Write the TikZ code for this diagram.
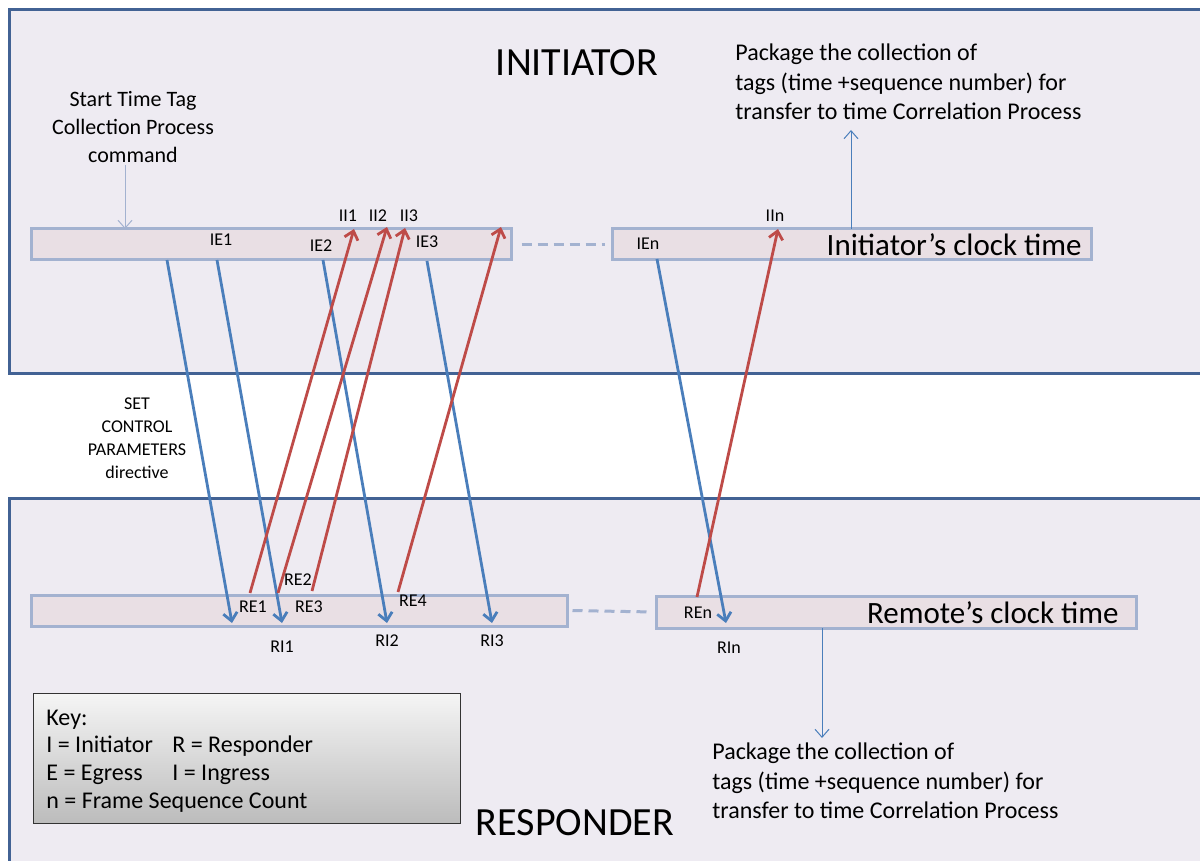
\documentclass[tikz,border=0pt]{standalone}
\usepackage{fontspec}
\setmainfont{Carlito}
\usetikzlibrary{arrows.meta, positioning, fit}

\definecolor{panelfill}{RGB}{238,235,242}
\definecolor{panelline}{RGB}{66,98,148}
\definecolor{barfill}{RGB}{233,223,228}
\definecolor{barline}{RGB}{163,178,208}
\definecolor{egressblue}{RGB}{74,126,187}
\definecolor{ingressred}{RGB}{190,75,72}
\definecolor{keytop}{RGB}{245,245,245}
\definecolor{keybottom}{RGB}{188,188,188}

\tikzset{
  panel/.style={fill=panelfill,draw=panelline,line width=1.5pt},
  clockbar/.style={fill=barfill,draw=barline,line width=1.5pt,inner sep=0pt},
  linkdash/.style={draw=barline,line width=1.5pt,dash pattern=on 5pt off 3pt},
  egressarr/.style={draw=egressblue,line width=1.4pt,-{Straight Barb[length=4pt,width=7pt]}},
  ingressarr/.style={draw=ingressred,line width=1.4pt,-{Straight Barb[length=4pt,width=7pt]}},
  thinarr/.style={line width=0.5pt,-{Straight Barb[length=4pt,width=7pt]}},
  tag/.style={font=\fontsize{9}{10}\selectfont,inner sep=1pt},
  title/.style={font=\fontsize{20}{24}\selectfont},
  clocklabel/.style={font=\fontsize{15.5}{18}\selectfont,anchor=east,inner sep=0pt},
  note/.style={font=\fontsize{12}{14.75}\selectfont,align=left,anchor=west,inner sep=0pt},
  keybox/.style={top color=keytop,bottom color=keybottom,draw=black!80,line width=0.5pt,inner sep=0pt},
  keytext/.style={font=\fontsize{12}{14}\selectfont,anchor=base west,inner sep=0pt}
}

\begin{document}
\begin{tikzpicture}[x=0.5pt,y=-0.5pt]
    \useasboundingbox (0,0) rectangle (1200,861);
    \clip (0,0) rectangle (1200,861);
    \fill[white] (0,0) rectangle (1200,861);

    % Initiator and responder areas
    \draw[panel] (9,10) rectangle (1220,374);
    \draw[panel] (9,498) rectangle (1220,880);
    \node[title] (initiator) at (577,63) {INITIATOR};
    \node[title] (responder) at (575,823) {RESPONDER};

    % Clock bars
    \node[clockbar,fit={(31,229) (511,260)}] (ibarA) {};
    \node[clockbar,fit={(612,229) (1091,260)}] (ibarB) {};
    \node[clockbar,fit={(31,595) (567,626)}] (rbarA) {};
    \node[clockbar,fit={(656,596) (1136,628)}] (rbarB) {};
    \draw[linkdash,shorten <=4.5pt,shorten >=3pt] (ibarA.east) -- (ibarB.west);
    \draw[linkdash,shorten <=2pt,shorten >=3pt] (rbarA.east) -- (rbarB.west);
    \node[clocklabel] (iclock) at (1082,245) {Initiator’s clock time};
    \node[clocklabel] (rclock) at (1119,613) {Remote’s clock time};

    % Start command
    \node[font=\fontsize{11}{14}\selectfont,align=center] (startcmd) at (133,127)
        {Start Time Tag\\Collection Process\\command};
    \coordinate (startend) at (125,229);
    \draw[thinarr,draw=barline] (125,165) -- (startend);

    % Package notes
    \node[note] (ipackage) at (735,82)
        {Package the collection of\\tags (time +sequence number) for\\transfer to time Correlation Process};
    \node[note] (rpackage) at (712,781)
        {Package the collection of\\tags (time +sequence number) for\\transfer to time Correlation Process};
    \coordinate (ipkgfoot) at (851,229);
    \coordinate (ipkghead) at (851,130);
    \coordinate (rpkgfoot) at (822,628);
    \coordinate (rpkghead) at (822,738);
    \draw[thinarr,draw=egressblue] (ipkgfoot) -- (ipkghead);
    \draw[thinarr,draw=egressblue] (rpkgfoot) -- (rpkghead);

    \node[font=\fontsize{9}{11.5}\selectfont,align=center] (setparams) at (137,438)
        {SET\\CONTROL\\PARAMETERS\\directive};

    % Egress from initiator, ingress at responder
    \coordinate (ie0) at (167,260);
    \coordinate (ie1) at (217,260);
    \coordinate (ie2) at (323,260);
    \coordinate (ie3) at (427,261);
    \coordinate (ien) at (657,259);
    \coordinate (ri0) at (232,623);
    \coordinate (ri1) at (282,623);
    \coordinate (ri2) at (387,623);
    \coordinate (ri3) at (492,623);
    \coordinate (rin) at (726,623);
    \foreach \s in {0,1,2,3,n}
        \draw[egressarr] (ie\s) -- (ri\s);

    % Egress from responder, ingress at initiator
    \coordinate (re1) at (250,593);
    \coordinate (re2) at (278,593);
    \coordinate (re3) at (312,591);
    \coordinate (re4) at (398,592);
    \coordinate (ren) at (697,597);
    \coordinate (ii1) at (354,229);
    \coordinate (ii2) at (387,227);
    \coordinate (ii3) at (405,228);
    \coordinate (ii4) at (501,227);
    \coordinate (iin) at (778,229);
    \foreach \s in {1,2,3,4,n}
        \draw[ingressarr] (re\s) -- (ii\s);

    % Tags
    \node[tag] (ie1tag) at (221,240) {IE1};
    \node[tag] (ie2tag) at (321,246) {IE2};
    \node[tag] (ie3tag) at (427,242) {IE3};
    \node[tag] (ientag) at (648,244) {IEn};
    \node[tag] (ii1tag) at (348,216) {II1};
    \node[tag] (ii2tag) at (378,216) {II2};
    \node[tag] (ii3tag) at (409,216) {II3};
    \node[tag] (iintag) at (775,216) {IIn};
    \node[tag] (re1tag) at (253,607) {RE1};
    \node[tag] (re2tag) at (298,580) {RE2};
    \node[tag] (re3tag) at (309,607) {RE3};
    \node[tag] (re4tag) at (413,601) {RE4};
    \node[tag] (rentag) at (698,613) {REn};
    \node[tag] (ri1tag) at (282,647) {RI1};
    \node[tag] (ri2tag) at (387,641) {RI2};
    \node[tag] (ri3tag) at (492,641) {RI3};
    \node[tag] (rintag) at (729,648) {RIn};

    % Key
    \node[keybox,fit={(33,693) (460,823)}] (key) {};
    \node[keytext] (keyhead) at (46,725) {Key:};
    \node[keytext] (keyi) at (46,752) {I = Initiator};
    \node[keytext] (keyr) at (172,752) {R = Responder};
    \node[keytext] (keye) at (46,780) {E = Egress};
    \node[keytext] (keyin) at (172,780) {I = Ingress};
    \node[keytext] (keyn) at (46,808) {n = Frame Sequence Count};
\end{tikzpicture}
\end{document}
